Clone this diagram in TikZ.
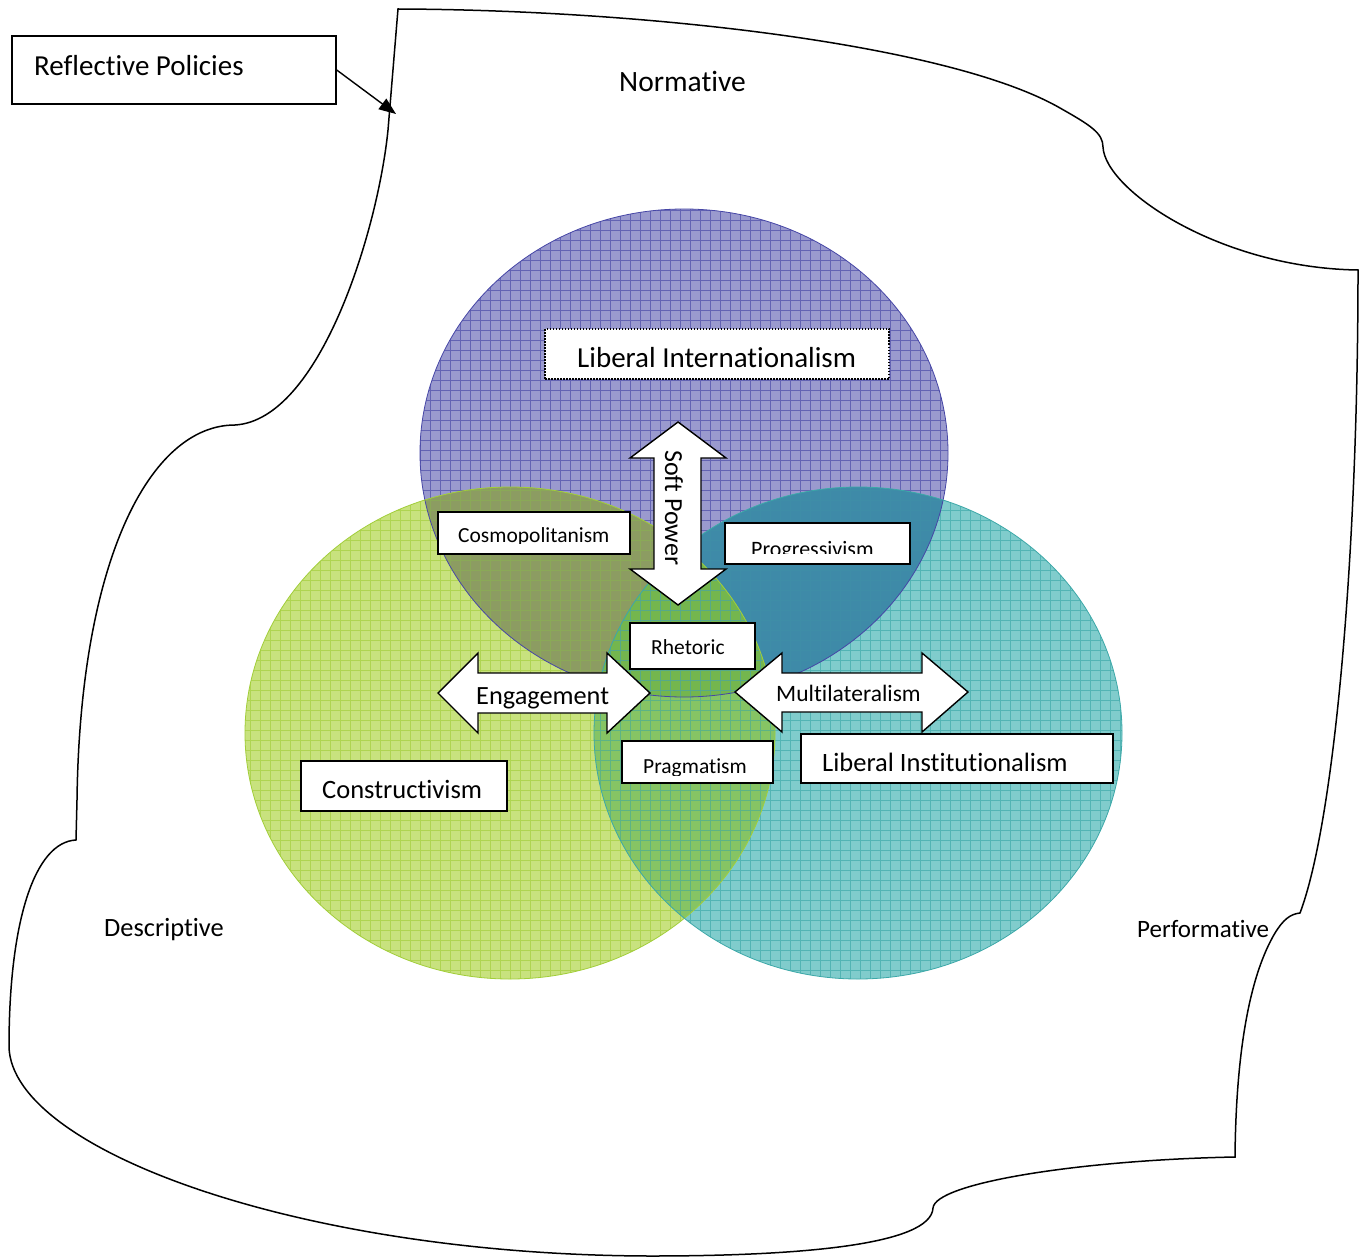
\documentclass[tikz,border=0pt]{standalone}
\usepackage{fontspec}
\setmainfont{Carlito}[Ligatures=NoCommon]
\usetikzlibrary{arrows.meta}
\definecolor{topc}{HTML}{9A9ACE}
\definecolor{topg}{HTML}{4646A6}
\definecolor{leftc}{HTML}{C8E27E}
\definecolor{leftg}{HTML}{A2CE3A}
\definecolor{rightc}{HTML}{80CCCC}
\definecolor{rightg}{HTML}{3CA8A8}
\definecolor{tlc}{HTML}{8C9C62}
\definecolor{trc}{HTML}{3E8AA8}
\definecolor{lrc}{HTML}{86C464}
\definecolor{triC}{HTML}{74B64E}
\newcommand{\fsz}[1]{\fontsize{#1}{#1}\selectfont}
\tikzset{
  txt/.style={inner sep=0pt, anchor=base west},
  wbox/.style={draw=black, fill=white, line width=1.4pt, inner sep=0pt},
  barrow/.style={draw=black, fill=white, line width=1.4pt, line join=miter},
  outline/.style={draw=black, line width=1.5pt},
  gridl/.style={line width=0.8pt, opacity=0.65},
}
\begin{document}
\begin{tikzpicture}[x=1pt,y=-1pt]
\useasboundingbox (0,0) rectangle (1367,1257);
\fill[white] (0,0) rectangle (1367,1257);

% outer outline
\draw[outline] (398,9) .. controls (650,10) and (950,45) .. (1060,108)
  .. controls (1090,125) and (1103,133) .. (1103,147)
  .. controls (1105,190) and (1220,268) .. (1358,270)
  .. controls (1358,550) and (1335,820) .. (1300,913)
  .. controls (1290,914) and (1283,920) .. (1275,933)
  .. controls (1250,975) and (1236,1050) .. (1235,1157)
  .. controls (1080,1160) and (935,1183) .. (933,1208)
  .. controls (931,1245) and (800,1256) .. (650,1256)
  .. controls (300,1255) and (12,1150) .. (9,1047)
  .. controls (9,920) and (35,842) .. (76,840)
  -- (77,800)
  .. controls (80,560) and (150,425) .. (235,425)
  .. controls (320,420) and (378,230) .. (388,130)
  -- (398,9) -- cycle;

% circles: base fills
\fill[topc] (684,453) ellipse [x radius=264pt, y radius=244pt];
\fill[leftc] (510,733) ellipse [x radius=265pt, y radius=246pt];
\fill[rightc] (858,733) ellipse [x radius=264pt, y radius=246pt];
\begin{scope}
  \clip (684,453) ellipse [x radius=264pt, y radius=244pt];
  \fill[tlc] (510,733) ellipse [x radius=265pt, y radius=246pt];
  \fill[trc] (858,733) ellipse [x radius=264pt, y radius=246pt];
\end{scope}
\begin{scope}
  \clip (510,733) ellipse [x radius=265pt, y radius=246pt];
  \fill[lrc] (858,733) ellipse [x radius=264pt, y radius=246pt];
\end{scope}
\begin{scope}
  \clip (684,453) ellipse [x radius=264pt, y radius=244pt];
  \clip (510,733) ellipse [x radius=265pt, y radius=246pt];
  \fill[triC] (858,733) ellipse [x radius=264pt, y radius=246pt];
\end{scope}
% grids
\begin{scope}
  \clip (684,453) ellipse [x radius=264pt, y radius=244pt];
  \draw[gridl, topg, step=10pt] (410,200) grid (960,700);
\end{scope}
\begin{scope}
  \clip (510,733) ellipse [x radius=265pt, y radius=246pt];
  \draw[gridl, leftg, step=10pt] (240,480) grid (780,990);
\end{scope}
\begin{scope}
  \clip (858,733) ellipse [x radius=264pt, y radius=246pt];
  \draw[gridl, rightg, step=10pt] (590,480) grid (1130,990);
\end{scope}
% borders
\draw[topg, line width=0.8pt] (684,453) ellipse [x radius=264pt, y radius=244pt];
\draw[leftg, line width=0.8pt] (510,733) ellipse [x radius=265pt, y radius=246pt];
\draw[rightg, line width=0.8pt] (858,733) ellipse [x radius=264pt, y radius=246pt];

% Reflective Policies box and arrow
\node[wbox, minimum width=324pt, minimum height=68pt] (rp) at (174,70) {};
\node[txt, font=\fsz{29}] (rpt) at (34,76) {Reflective Policies};
\coordinate (rptip) at (396,114);
\draw[line width=1.4pt, -{Triangle[length=17pt,width=13pt]}] (rp.east) -- (rptip);

% region labels
\node[txt, font=\fsz{29.5}] (norm) at (619,92) {Normative};
\node[txt, font=\fsz{26.4}] (desc) at (104,936) {Descriptive};
\node[txt, font=\fsz{25}] (perf) at (1137,937) {Performative};

% Liberal Internationalism
\node[wbox, fill=white, draw=black, line width=1.2pt, dash pattern=on 1.5pt off 1.5pt,
      minimum width=344pt, minimum height=50pt] (lib) at (717,354) {};
\node[txt, font=\fsz{29}] (libt) at (577,367) {Liberal Internationalism};

% Soft Power double arrow
\draw[barrow] (678,422) -- (726,458) -- (701,458) -- (701,569) -- (726,569)
  -- (678,605) -- (630,569) -- (654,569) -- (654,458) -- (630,458) -- cycle;
\node[txt, font=\fsz{26}, rotate=-90] (soft) at (665,450) {Soft Power};

% Cosmopolitanism
\node[wbox, minimum width=192pt, minimum height=42pt] (cos) at (534,533) {};
\begin{scope}
  \clip (438,512) rectangle (630,543);
  \node[txt, font=\fsz{21.5}] (cost) at (458,542) {Cosmopolitanism};
\end{scope}

% Progressivism
\node[wbox, minimum width=185pt, minimum height=41pt] (prog) at (817.5,543.5) {};
\begin{scope}
  \clip (725,523) rectangle (910,553);
  \node[txt, font=\fsz{22}] (progt) at (751,556) {Progressivism};
\end{scope}

% Rhetoric
\node[wbox, minimum width=125pt, minimum height=46pt] (rhet) at (692.5,646) {};
\node[txt, font=\fsz{21.5}] (rhett) at (651,654) {Rhetoric};

% Engagement arrow
\draw[barrow] (438,693) -- (478,653) -- (478,673) -- (607,673) -- (607,653)
  -- (650,693) -- (607,733) -- (607,713) -- (478,713) -- (478,733) -- cycle;
\node[txt, font=\fsz{26.3}] (eng) at (476,704) {Engagement};

% Multilateralism arrow
\draw[barrow] (735,692) -- (782,653) -- (782,673) -- (922,673) -- (922,653)
  -- (968,692) -- (922,732) -- (922,712) -- (782,712) -- (782,732) -- cycle;
\node[txt, font=\fsz{23.5}] (mult) at (776,701) {Multilateralism};

% Pragmatism
\node[wbox, minimum width=151pt, minimum height=42pt] (prag) at (697.5,762) {};
\begin{scope}
  \clip (622,741) rectangle (773,775);
  \node[txt, font=\fsz{21.5}] (pragt) at (643,773) {Pragmatism};
\end{scope}

% Liberal Institutionalism
\node[wbox, minimum width=312pt, minimum height=49pt] (inst) at (957,758.5) {};
\node[txt, font=\fsz{26.5}] (instt) at (822,771) {Liberal Institutionalism};

% Constructivism
\node[wbox, minimum width=206pt, minimum height=50pt] (cons) at (404,786) {};
\node[txt, font=\fsz{26.5}] (const) at (322,798) {Constructivism};
\end{tikzpicture}
\end{document}
